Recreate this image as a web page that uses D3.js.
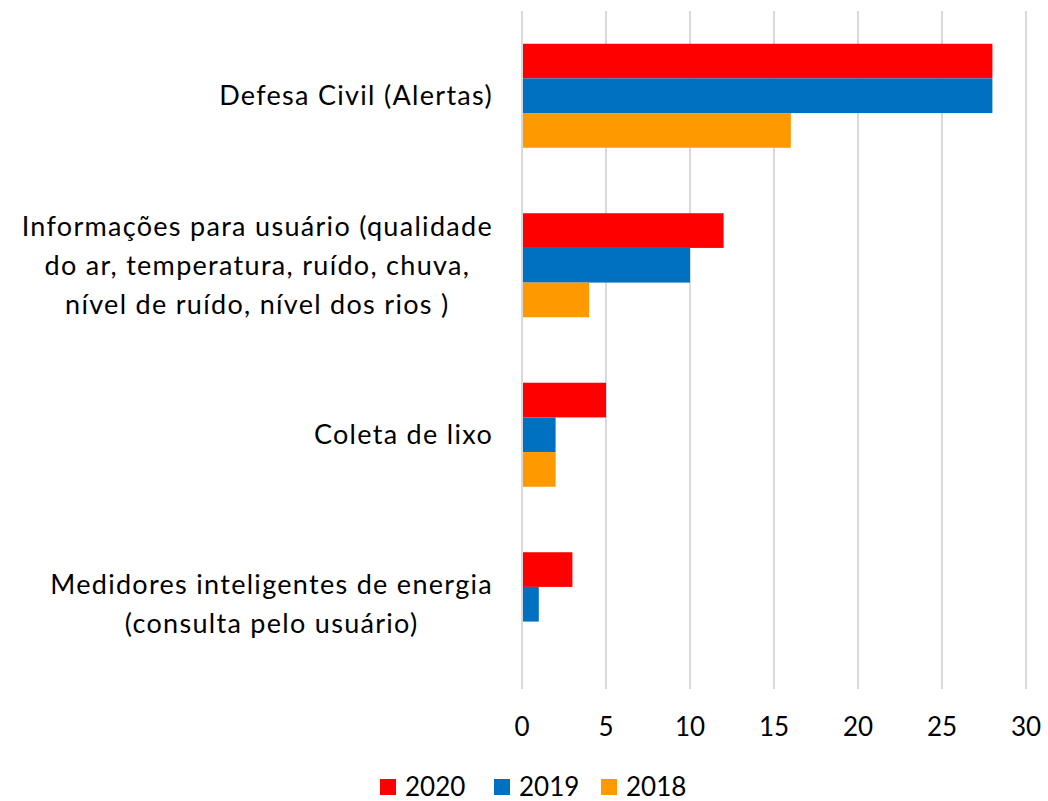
<!DOCTYPE html>
<html>
<head>
<meta charset="utf-8">
<script src="https://cdn.jsdelivr.net/npm/d3@7"></script>
<style>
  body { margin: 0; background: #fff; }
  text { font-family: Lato, "Open Sans", sans-serif; fill: #000; }
</style>
</head>
<body>
<script>
// data
categories = [
  ["Defesa Civil (Alertas)"],
  ["Informações para usuário (qualidade", "do ar, temperatura, ruído, chuva,", "nível de ruído, nível dos rios )"],
  ["Coleta de lixo"],
  ["Medidores inteligentes de energia", "(consulta pelo usuário)"]
]
series = ["2020", "2019", "2018"]
values2020 = [28, 12, 5, 3]
values2019 = [28, 10, 2, 1]
values2018 = [16, 4, 2, 0]
ticks = [0, 5, 10, 15, 20, 25, 30]
colors = ["#FF0000", "#0070C0", "#FF9900"]

width = 1048
height = 801
fontSize = 26

svg = d3.select("body")
    .append("svg")
    .attr("width", width)
    .attr("height", height)

x = d3.scaleLinear().domain([0, 30]).range([522, 1026])
y = d3.scaleBand().domain(d3.range(categories.length)).range([11, 689])
    .paddingInner(0.3864).paddingOuter(0.1932)
ySub = d3.scaleBand().domain(series).range([0, y.bandwidth()])

// gridlines
svg.selectAll("line.grid")
    .data(ticks)
    .enter()
    .append("line")
    .attr("class", "grid")
    .attr("x1", d => x(d))
    .attr("x2", d => x(d))
    .attr("y1", 11)
    .attr("y2", 689)
    .attr("stroke", "#D9D9D9")
    .attr("stroke-width", 2)

// bars
allValues = [values2020, values2019, values2018]
rows = []
series.forEach(function(s, si) {
  allValues[si].forEach(function(v, ci) {
    rows.push({s: s, si: si, ci: ci, v: v})
  })
})
svg.selectAll("rect.bar")
    .data(rows.filter(d => d.v > 0))
    .enter()
    .append("rect")
    .attr("class", "bar")
    .attr("x", x(0) + 1)
    .attr("y", d => y(d.ci) + ySub(d.s))
    .attr("width", d => x(d.v) - x(0) - 1)
    .attr("height", ySub.bandwidth())
    .attr("fill", d => colors[d.si])

// x tick labels
svg.selectAll("text.tick")
    .data(ticks)
    .enter()
    .append("text")
    .attr("class", "tick")
    .attr("x", d => x(d))
    .attr("y", 727)
    .attr("dy", "0.35em")
    .attr("text-anchor", "middle")
    .style("font-size", fontSize + "px")
    .text(d => d)

// category labels: block right-aligned, lines centred
lineH = 39
labelRight = 493
categories.forEach(function(lines, ci) {
  g = svg.append("g")
  cy = y(ci) + y.bandwidth() / 2
  texts = g.selectAll("text")
      .data(lines)
      .enter()
      .append("text")
      .attr("text-anchor", "middle")
      .attr("dy", "0.35em")
      .attr("y", (d, i) => cy + (i - (lines.length - 1) / 2) * lineH)
      .style("font-size", "27px")
      .style("letter-spacing", "1.3px")
      .text(d => d)
  maxW = d3.max(texts.nodes(), n => n.getComputedTextLength())
  texts.attr("x", labelRight - maxW / 2)
})

// legend
legendX = [380, 494, 601]
legend = svg.selectAll("g.legend")
    .data(series)
    .enter()
    .append("g")
    .attr("class", "legend")
    .attr("transform", (d, i) => "translate(" + legendX[i] + ",787)")
legend.append("rect")
    .attr("x", 0)
    .attr("y", -8)
    .attr("width", 16)
    .attr("height", 16)
    .attr("fill", (d, i) => colors[i])
legend.append("text")
    .attr("x", 25)
    .attr("dy", "0.35em")
    .style("font-size", fontSize + "px")
    .text(d => d)
</script>
</body>
</html>
